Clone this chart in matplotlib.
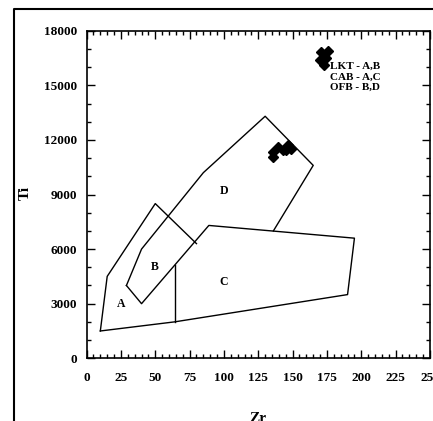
import matplotlib.pyplot as plt
from matplotlib.lines import Line2D
from matplotlib.ticker import MultipleLocator

plt.rcParams['font.family'] = ['Liberation Serif', 'DejaVu Serif']
plt.rcParams['font.weight'] = 'bold'

# Field boundaries (Zr ppm, Ti ppm)
line1_zr = [10, 15, 50, 80]
line1_ti = [1500, 4500, 8500, 6300]
line2_zr = [29, 40, 85, 130, 165, 136]
line2_ti = [4000, 6000, 10200, 13300, 10600, 7000]
line3_zr = [29, 40, 89, 195, 190, 64, 10]
line3_ti = [4000, 3000, 7300, 6600, 3500, 2000, 1500]
line4_zr = [64, 64]
line4_ti = [5100, 2000]

field_names = ["A", "B", "C", "D"]
field_zr = [25, 50, 100, 100]
field_ti = [3000, 5000, 4200, 9200]

# Samples
sample_zr = [136, 139, 143, 146.5, 149, 135.5, 145, 171, 170, 174, 173, 175.5]
sample_ti = [11330, 11600, 11440, 11720, 11500, 11060, 11440, 16830, 16390, 16500, 16120, 16880]

fig = plt.figure(figsize=(4.33, 4.21), dpi=100)
ax = fig.add_axes([0.200, 0.149, 0.793, 0.778])

for xs, ys in [(line1_zr, line1_ti), (line2_zr, line2_ti), (line3_zr, line3_ti), (line4_zr, line4_ti)]:
    ax.plot(xs, ys, color='black', lw=1.0)

for name, x, y in zip(field_names, field_zr, field_ti):
    ax.text(x, y, name, ha='center', va='center', fontsize=8.5, fontweight='bold')

ax.text(195.5, 15450, "LKT - A,B\nCAB - A,C\nOFB - B,D", ha='center', va='center',
        fontsize=8, fontweight='bold', linespacing=1.2)

ax.plot(sample_zr, sample_ti, 'D', color='black', markersize=5.5, linestyle='none')

ax.set_xlim(0, 250)
ax.set_ylim(0, 18000)
ax.xaxis.set_major_locator(MultipleLocator(25))
ax.xaxis.set_minor_locator(MultipleLocator(5))
ax.yaxis.set_major_locator(MultipleLocator(3000))
ax.yaxis.set_minor_locator(MultipleLocator(1000))
ax.tick_params(which='both', direction='in', top=True, right=True, labelsize=9.5)
ax.tick_params(which='major', length=6, width=1)
ax.tick_params(which='minor', length=3, width=1)
ax.tick_params(axis='x', pad=10)
ax.tick_params(axis='y', pad=7)
for lab in ax.get_xticklabels() + ax.get_yticklabels():
    lab.set_fontweight('bold')
for sp in ax.spines.values():
    sp.set_linewidth(1.2)

fig.text(25 / 433, 1 - 193 / 421, "Ti", rotation=90, ha='center', va='center', fontsize=11, fontweight='bold')
fig.text(258 / 433, 1 - 419 / 421, "Zr", ha='center', va='center', fontsize=11, fontweight='bold')

# outer frame of the scanned figure
fig.add_artist(Line2D([14 / 433, 14 / 433, 1.0], [0.0, 1 - 9 / 421, 1 - 9 / 421],
                      transform=fig.transFigure, color='black', lw=1.5))

fig.savefig("out.png", dpi=100)
